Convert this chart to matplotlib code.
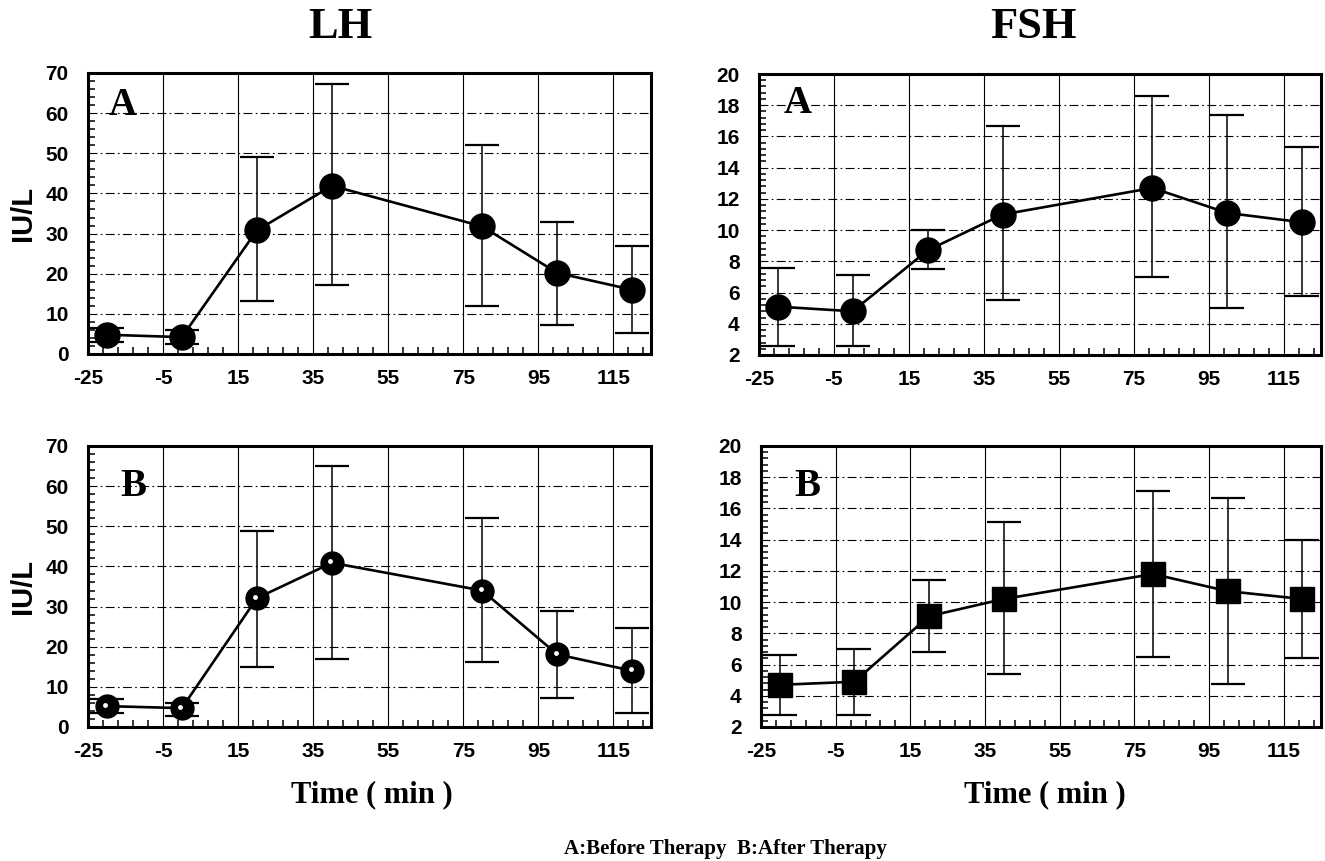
import numpy as np
import matplotlib
matplotlib.use("Agg")
import matplotlib.pyplot as plt
from matplotlib.ticker import MultipleLocator, FixedLocator
from matplotlib.transforms import offset_copy

plt.rcParams["axes.unicode_minus"] = False

# sampling times (min)
times = [-20, 0, 20, 40, 80, 100, 120]

# LH, before therapy (A)
lh_a = [4.8, 4.2, 30.8, 41.9, 31.8, 20.2, 16.0]
lh_a_hi = [6.5, 6.1, 49.0, 67.3, 52.1, 33.0, 27.0]
lh_a_lo = [2.9, 2.6, 13.1, 17.1, 12.0, 7.1, 5.2]

# LH, after therapy (B)
lh_b = [5.2, 4.7, 32.1, 40.9, 34.0, 18.1, 14.0]
lh_b_hi = [7.0, 6.1, 48.8, 64.9, 52.0, 29.0, 24.7]
lh_b_lo = [3.4, 2.7, 15.0, 16.9, 16.1, 7.3, 3.4]

# FSH, before therapy (A)
fsh_a = [5.1, 4.8, 8.7, 11.0, 12.7, 11.1, 10.5]
fsh_a_hi = [7.6, 7.1, 10.0, 16.7, 18.6, 17.4, 15.3]
fsh_a_lo = [2.6, 2.6, 7.5, 5.5, 7.0, 5.0, 5.8]

# FSH, after therapy (B)
fsh_b = [4.7, 4.9, 9.1, 10.2, 11.8, 10.7, 10.2]
fsh_b_hi = [6.6, 7.0, 11.4, 15.1, 17.1, 16.7, 14.0]
fsh_b_lo = [2.8, 2.8, 6.8, 5.4, 6.5, 4.75, 6.4]

x_ticks = [-25, -5, 15, 35, 55, 75, 95, 115]

SERIF = ["Liberation Serif", "DejaVu Serif"]
SANS = ["Liberation Sans", "DejaVu Sans"]


def draw_panel(ax, y, hi, lo, ylim, ystep, yminor, letter, marker, msize, label_xy,
               ylabel=None, shiny=False):
    y = np.array(y)
    err = [y - np.array(lo), np.array(hi) - y]
    ax.errorbar(times, y, yerr=err, fmt="none", ecolor="black", elinewidth=1.1,
                capsize=12.5, capthick=1.6, zorder=3)
    ax.plot(times, y, color="black", lw=1.9, marker=marker, ms=msize,
            mfc="black", mec="black", zorder=4)
    if shiny:
        tr = offset_copy(ax.transData, fig=ax.figure, x=-1.5, y=1.5, units="dots")
        ax.plot(times, y, ls="none", marker="o", ms=3.5, mfc="white", mec="none",
                transform=tr, zorder=5)

    ax.set_xlim(-25, 125)
    ax.set_ylim(*ylim)
    ax.set_xticks(x_ticks)
    ax.set_yticks(np.arange(ylim[0], ylim[1] + 0.01, ystep))
    ax.xaxis.set_minor_locator(FixedLocator(np.arange(-25, 126, 4)))
    ax.yaxis.set_minor_locator(MultipleLocator(yminor))

    ax.tick_params(which="major", length=0, labelsize=15)
    ax.tick_params(axis="x", which="major", pad=11)
    ax.tick_params(axis="y", which="major", pad=14)
    ax.tick_params(which="minor", direction="in", length=5, width=1.1,
                   top=False, right=False)
    for lab in ax.get_xticklabels() + ax.get_yticklabels():
        lab.set_family(SANS)
        lab.set_fontweight("bold")

    ax.grid(axis="x", which="major", color="black", lw=0.8, ls="-")
    ax.grid(axis="y", which="major", color="black", lw=0.8, ls=(0, (8, 3, 1.5, 3)))
    ax.set_axisbelow(True)
    for sp in ax.spines.values():
        sp.set_linewidth(2.2)

    ax.text(label_xy[0], label_xy[1], letter, transform=ax.transAxes, ha="center",
            va="center", fontsize=28, fontweight="bold", family=SERIF)
    if ylabel:
        lbl = ax.set_ylabel(ylabel, fontsize=21, fontweight="bold", family=SANS)
        lbl.set_va("center")
        ax.yaxis.set_label_coords(-0.116, 0.5)


fig = plt.figure(figsize=(13.25, 8.61), dpi=100)
W, H = 1325.0, 861.0


def add_axes(left, top, right, bottom):
    return fig.add_axes([left / W, 1 - bottom / H, (right - left) / W, (bottom - top) / H])


ax_lh_a = add_axes(88, 73, 651, 354)
ax_fsh_a = add_axes(759, 74, 1321, 355)
ax_lh_b = add_axes(88, 446, 651, 727)
ax_fsh_b = add_axes(761, 446, 1321, 727)

draw_panel(ax_lh_a, lh_a, lh_a_hi, lh_a_lo, (0, 70), 10, 2, "A", "o", 18,
           (0.061, 0.885), ylabel="IU/L")
draw_panel(ax_lh_b, lh_b, lh_b_hi, lh_b_lo, (0, 70), 10, 2, "B", "o", 16.5,
           (0.081, 0.855), ylabel="IU/L", shiny=True)
draw_panel(ax_fsh_a, fsh_a, fsh_a_hi, fsh_a_lo, (2, 20), 2, 0.4, "A", "o", 18,
           (0.068, 0.895))
draw_panel(ax_fsh_b, fsh_b, fsh_b_hi, fsh_b_lo, (2, 20), 2, 0.4, "B", "s", 17,
           (0.082, 0.857))

fig.text(340 / W, 1 - 27 / H, "LH", ha="center", va="center", fontsize=32,
         fontweight="bold", family=SERIF)
fig.text(1033 / W, 1 - 27 / H, "FSH", ha="center", va="center", fontsize=32,
         fontweight="bold", family=SERIF)
fig.text(372 / W, 1 - 795 / H, "Time ( min )", ha="center", va="center", fontsize=22,
         fontweight="bold", family=SERIF)
fig.text(1045 / W, 1 - 795 / H, "Time ( min )", ha="center", va="center", fontsize=22,
         fontweight="bold", family=SERIF)
fig.text(725 / W, 1 - 849 / H, "A:Before Therapy  B:After Therapy", ha="center",
         va="center", fontsize=15, fontweight="bold", family=SERIF)

fig.savefig("out.png", dpi=100)
